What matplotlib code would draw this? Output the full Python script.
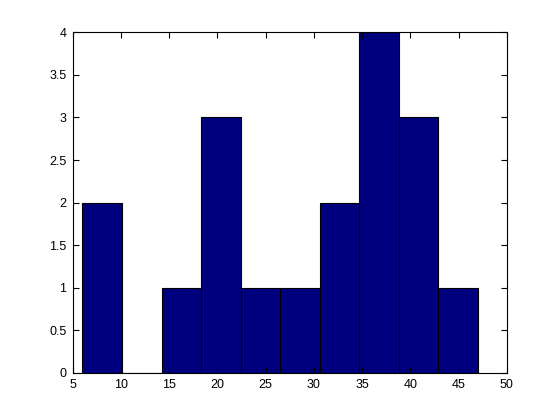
import matplotlib
matplotlib.use("Agg")
import matplotlib.pyplot as plt
import numpy as np

# histogram bins
bin_edges = [6.0, 10.1, 14.2, 18.3, 22.4, 26.5, 30.6, 34.7, 38.8, 42.9, 47.0]
counts = [2, 0, 1, 3, 1, 1, 2, 4, 3, 1]

x_ticks = [5, 10, 15, 20, 25, 30, 35, 40, 45, 50]
y_ticks = [0, 0.5, 1, 1.5, 2, 2.5, 3, 3.5, 4]
y_labels = ["0", "0.5", "1", "1.5", "2", "2.5", "3", "3.5", "4"]

plt.rcParams['font.family'] = ['Liberation Sans', 'DejaVu Sans']

fig = plt.figure(figsize=(5.6, 4.2), dpi=100)
ax = fig.add_axes([0.13, 0.112, 0.775, 0.811])

edges = np.array(bin_edges)
ax.bar(edges[:-1], counts, width=np.diff(edges), align="edge",
       color="#00007f", edgecolor="black", linewidth=0.8)

ax.set_xlim(5, 50)
ax.set_ylim(0, 4)
ax.set_xticks(x_ticks)
ax.set_yticks(y_ticks)
ax.set_yticklabels(y_labels)
ax.tick_params(direction="in", top=True, right=True, length=4,
               labelsize=9, width=0.8, pad=4.5)
for s in ax.spines.values():
    s.set_linewidth(0.8)

fig.savefig("out.png", dpi=100)
